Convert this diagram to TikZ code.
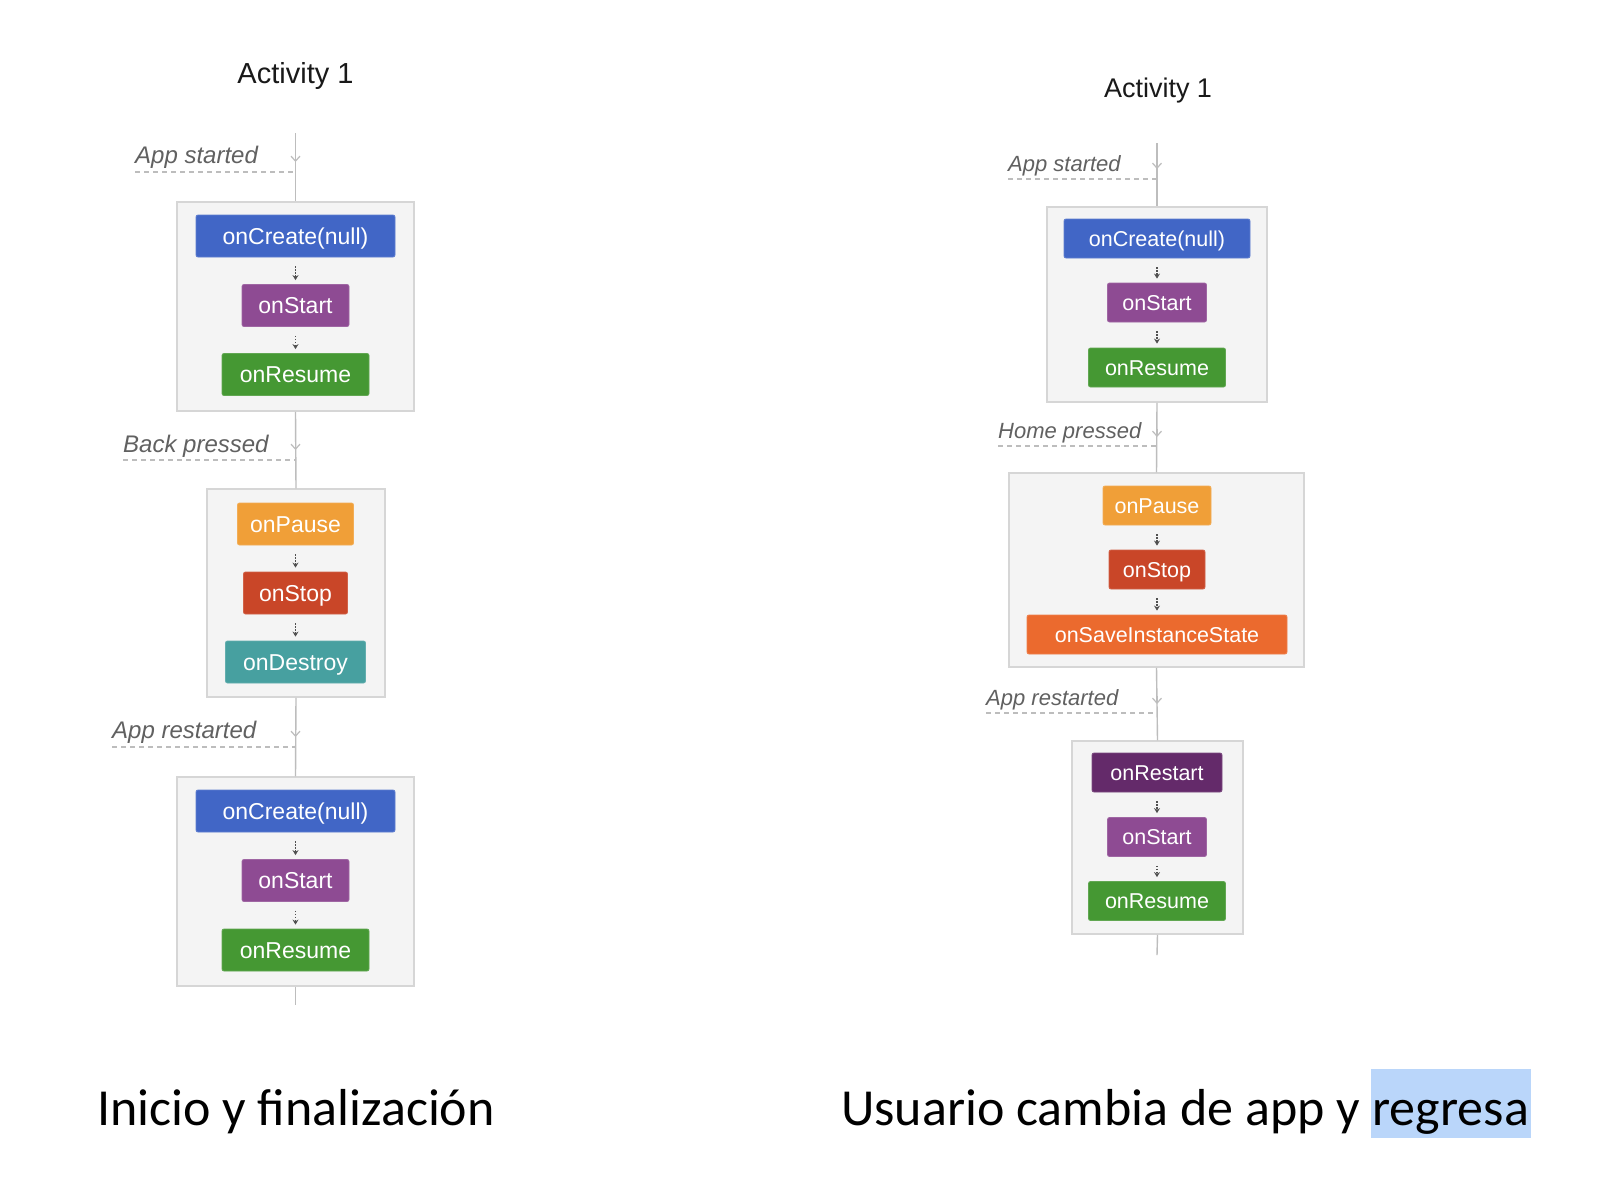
\documentclass[tikz,border=0pt]{standalone}
\usepackage{fontspec}
\setmainfont{Liberation Sans}
\newfontfamily\capfont{Carlito}
\usetikzlibrary{arrows.meta,calc}
\definecolor{cblue}{HTML}{4166C6}
\definecolor{cpurple}{HTML}{8E4B93}
\definecolor{cgreen}{HTML}{459833}
\definecolor{corange}{HTML}{F09F38}
\definecolor{cred}{HTML}{C94628}
\definecolor{cteal}{HTML}{47A0A0}
\definecolor{csave}{HTML}{EB6A2E}
\definecolor{crestart}{HTML}{642A6A}
\definecolor{framefill}{HTML}{F4F4F4}
\definecolor{framedraw}{HTML}{D6D6D6}
\definecolor{linec}{HTML}{BDBDBD}
\definecolor{labc}{HTML}{616161}
\definecolor{minic}{HTML}{505050}
\definecolor{hlc}{HTML}{BAD6FA}
\tikzset{
  frame/.style={draw=framedraw, fill=framefill, line width=1.5pt, inner sep=0pt},
  meth/.style={fill=#1, draw=#1!85!white, line width=0.8pt, rounded corners=2pt, text=white, inner sep=0pt},
  methL/.style={meth=#1, minimum height=42pt, font=\fontsize{23}{27}\selectfont, text height=16.5pt, text depth=0pt},
  methR/.style={meth=#1, minimum height=39pt, font=\fontsize{21.5}{25}\selectfont, text height=15.4pt, text depth=0pt},
  mainline/.style={draw=linec, line width=1.4pt},
  tickarrow/.style={draw=linec, line width=1.2pt, -{Straight Barb[length=5pt,width=9pt]}},
  dashline/.style={draw=linec, line width=1.5pt, dash pattern=on 5pt off 4pt},
  mini/.style={draw=minic, line width=1.2pt, dash pattern=on 1.5pt off 1.5pt, -{Stealth[length=5pt,width=6pt]}, shorten <=9pt, shorten >=4pt},
  labL/.style={anchor=base west, inner sep=0pt, text=labc, font=\itshape\fontsize{24}{28}\selectfont},
  labR/.style={anchor=base west, inner sep=0pt, text=labc, font=\itshape\fontsize{22}{26}\selectfont},
  title/.style={anchor=base, inner sep=0pt, text=black!90},
  caption/.style={anchor=base west, inner sep=0pt, font=\capfont\fontsize{52}{60}\selectfont},
}
\begin{document}
\begin{tikzpicture}[x=1pt,y=-1pt]
\fill[white] (0,0) rectangle (1598,1178);
\useasboundingbox (0,0) rectangle (1598,1178);

% ================= LEFT =================
\node[title, font=\fontsize{29}{34}\selectfont] (LT) at (295.5,83) {Activity 1};
\coordinate (Ls) at (295.5,133);
\coordinate (Le) at (295.5,1005);
\coordinate (Lt1) at (295.5,162);
\coordinate (Lt2) at (295.5,450);
\coordinate (Lt3) at (295.5,737);
\coordinate (Ld1a) at (135,172);  \coordinate (Ld1b) at (295.5,172);
\coordinate (Ld2a) at (123,460);  \coordinate (Ld2b) at (295.5,460);
\coordinate (Ld3a) at (112,747);  \coordinate (Ld3b) at (295.5,747);

\node[frame, minimum width=237pt, minimum height=209pt] (LF1) at (295.5,306.5) {};
\node[frame, minimum width=178pt, minimum height=208pt] (LF2) at (296,593) {};
\node[frame, minimum width=237pt, minimum height=209pt] (LF3) at (295.5,881.5) {};

\node[methL=cblue, minimum width=199pt] (L1a) at (295.5,236) {onCreate(null)};
\node[methL=cpurple, minimum width=107pt] (L1b) at (295.5,305.5) {onStart};
\node[methL=cgreen, minimum width=147pt] (L1c) at (295.5,374.5) {onResume};
\node[methL=corange, minimum width=116pt] (L2a) at (295.5,524) {onPause};
\node[methL=cred, minimum width=104pt] (L2b) at (295.5,593) {onStop};
\node[methL=cteal, minimum width=140pt] (L2c) at (295.5,662) {onDestroy};
\node[methL=cblue, minimum width=199pt] (L3a) at (295.5,811) {onCreate(null)};
\node[methL=cpurple, minimum width=107pt] (L3b) at (295.5,880.5) {onStart};
\node[methL=cgreen, minimum width=147pt] (L3c) at (295.5,950) {onResume};

\draw[mini] (L1a.south) -- (L1b.north);
\draw[mini] (L1b.south) -- (L1c.north);
\draw[mini] (L2a.south) -- (L2b.north);
\draw[mini] (L2b.south) -- (L2c.north);
\draw[mini] (L3a.south) -- (L3b.north);
\draw[mini] (L3b.south) -- (L3c.north);

\draw[mainline] (Ls) -- (LF1.north);
\draw[mainline] (LF1.south) -- (LF2.north);
\draw[mainline] (LF2.south) -- (LF3.north);
\draw[mainline] (LF3.south) -- (Le);
\draw[tickarrow] ($(Lt1)+(0,-8)$) -- (Lt1);
\draw[tickarrow] ($(Lt2)+(0,-8)$) -- (Lt2);
\draw[tickarrow] ($(Lt3)+(0,-8)$) -- (Lt3);

\node[labL] (LL1) at (135,163) {App started};
\node[labL] (LL2) at (123,452) {Back pressed};
\node[labL] (LL3) at (112,738) {App restarted};
\draw[dashline] (Ld1a) -- (Ld1b);
\draw[dashline] (Ld2a) -- (Ld2b);
\draw[dashline] (Ld3a) -- (Ld3b);

% ================= RIGHT =================
\node[title, font=\fontsize{27}{32}\selectfont] (RT) at (1158,97) {Activity 1};
\coordinate (Rs) at (1157,143);
\coordinate (Re) at (1157,955);
\coordinate (Rt1) at (1157,169);
\coordinate (Rt2) at (1157,437);
\coordinate (Rt3) at (1157,704);
\coordinate (Rd1a) at (1008,179); \coordinate (Rd1b) at (1157,179);
\coordinate (Rd2a) at (998,446);  \coordinate (Rd2b) at (1157,446);
\coordinate (Rd3a) at (986,713);  \coordinate (Rd3b) at (1157,713);

\node[frame, minimum width=220pt, minimum height=195pt] (RF1) at (1157,304.5) {};
\node[frame, minimum width=295pt, minimum height=194pt] (RF2) at (1156.5,570) {};
\node[frame, minimum width=171pt, minimum height=193pt] (RF3) at (1157.5,837.5) {};

\node[methR=cblue, minimum width=186pt] (R1a) at (1157,238.5) {onCreate(null)};
\node[methR=cpurple, minimum width=99pt] (R1b) at (1157,302.5) {onStart};
\node[methR=cgreen, minimum width=137pt] (R1c) at (1157,367.5) {onResume};
\node[methR=corange, minimum width=108pt] (R2a) at (1157,505.5) {onPause};
\node[methR=cred, minimum width=96pt] (R2b) at (1157,569.5) {onStop};
\node[methR=csave, minimum width=260pt] (R2c) at (1157,634.5) {onSaveInstanceState};
\node[methR=crestart, minimum width=130pt] (R3a) at (1157,772.5) {onRestart};
\node[methR=cpurple, minimum width=99pt] (R3b) at (1157,837) {onStart};
\node[methR=cgreen, minimum width=137pt] (R3c) at (1157,901) {onResume};

\draw[mini] (R1a.south) -- (R1b.north);
\draw[mini] (R1b.south) -- (R1c.north);
\draw[mini] (R2a.south) -- (R2b.north);
\draw[mini] (R2b.south) -- (R2c.north);
\draw[mini] (R3a.south) -- (R3b.north);
\draw[mini] (R3b.south) -- (R3c.north);

\draw[mainline] (Rs) -- (RF1.north);
\draw[mainline] (RF1.south) -- (RF2.north);
\draw[mainline] (RF2.south) -- (RF3.north);
\draw[mainline] (RF3.south) -- (Re);
\draw[tickarrow] ($(Rt1)+(0,-8)$) -- (Rt1);
\draw[tickarrow] ($(Rt2)+(0,-8)$) -- (Rt2);
\draw[tickarrow] ($(Rt3)+(0,-8)$) -- (Rt3);

\node[labR] (RL1) at (1008,171) {App started};
\node[labR] (RL2) at (998,438) {Home pressed};
\node[labR] (RL3) at (986,705) {App restarted};
\draw[dashline] (Rd1a) -- (Rd1b);
\draw[dashline] (Rd2a) -- (Rd2b);
\draw[dashline] (Rd3a) -- (Rd3b);

% ================= CAPTIONS =================
\node[caption] (C1) at (97,1125) {Inicio y finalización};
\node[caption] (C2) at (841,1125) {Usuario cambia de app y};
\node[caption, fill=hlc, inner xsep=2pt, text height=56pt, text depth=13pt, xshift=10pt] (C3) at (C2.base east) {regresa};
\end{tikzpicture}
\end{document}
